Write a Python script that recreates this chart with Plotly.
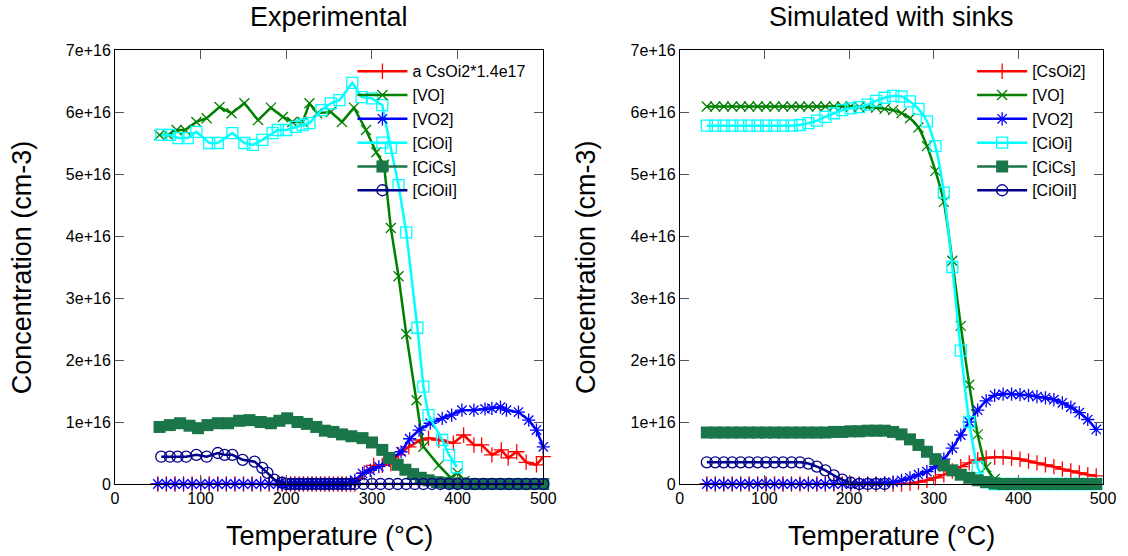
import numpy as np
import plotly.graph_objects as go

E16 = 1e16  # concentrations below are in units of 1e16 cm-3

# ---------------- Experimental ----------------
t_exp_low = [50, 60, 70, 80, 90, 100, 110, 120, 130, 140, 150, 160, 170, 180, 190,
             195, 200, 205, 210, 215, 220, 225, 230, 235, 240, 245, 250, 255, 260,
             265, 270, 275, 280]

csoi2_exp_t = t_exp_low + [291, 302, 312, 322, 331, 343, 357, 366, 378, 395, 407,
                           419, 428, 440, 451, 459, 469, 480, 492, 500]
csoi2_exp = [0, 0, 0, 0, 0, 0, 0, 0, 0, 0, 0, 0, 0, 0, 0, 0, 0, 0, 0, 0, 0, 0, 0,
             0, 0, 0, 0, 0, 0, 0, 0, 0, 0,
             0.18, 0.30, 0.30, 0.33, 0.47, 0.60, 0.71, 0.74, 0.71, 0.66, 0.79,
             0.63, 0.63, 0.47, 0.55, 0.42, 0.52, 0.35, 0.31, 0.44]

vo_exp_t = [52, 62, 72, 82, 95, 107, 122, 136, 151, 167, 182, 196, 207, 219, 227,
            236, 252, 265, 279, 293, 305, 314, 322, 331, 340, 352, 360, 378, 392,
            400, 408]
vo_exp = [5.63, 5.63, 5.71, 5.71, 5.84, 5.90, 6.08, 5.98, 6.14, 5.87, 6.07, 5.92,
          5.84, 5.84, 6.14, 5.98, 6.00, 5.84, 6.07, 5.71, 5.35, 5.15, 4.13, 3.35,
          2.42, 1.35, 0.60, 0.30, 0.10, 0.18, 0.05]

vo2_exp_t = t_exp_low + [289, 298, 308, 320, 334, 344, 355, 368, 382, 393, 405,
                         419, 432, 440, 450, 457, 471, 483, 492, 500]
vo2_exp = [0, 0, 0, 0, 0, 0, 0, 0, 0, 0, 0, 0, 0, 0, 0, 0, 0, 0, 0, 0, 0, 0, 0,
           0, 0, 0, 0, 0, 0, 0, 0, 0.03, 0.06,
           0.17, 0.22, 0.28, 0.38, 0.52, 0.73, 0.87, 0.98, 1.06, 1.11, 1.19,
           1.19, 1.21, 1.22, 1.24, 1.19, 1.16, 1.03, 0.87, 0.60]

cioi_exp_t = [54, 64, 74, 85, 95, 110, 120, 137, 151, 161, 172, 184, 190, 200, 211,
              219, 227, 241, 252, 262, 277, 288, 300, 312, 322, 331, 340, 353, 360,
              366, 382, 390, 399]
cioi_exp = [5.63, 5.63, 5.58, 5.58, 5.68, 5.50, 5.50, 5.66, 5.50, 5.47, 5.55, 5.66,
            5.71, 5.71, 5.76, 5.79, 5.82, 6.03, 6.14, 6.19, 6.47, 6.24, 6.22, 6.11,
            5.42, 4.82, 4.06, 2.52, 1.57, 1.11, 0.71, 0.47, 0.27]

cics_exp_t = [52, 64, 76, 87, 97, 108, 120, 132, 145, 157, 170, 182, 192, 201, 213,
              224, 235, 245, 255, 265, 276, 289, 300, 312, 320, 330, 339, 348, 357,
              366, 376, 386, 396, 406, 416, 426, 436, 446, 456, 466, 476, 488, 500]
cics_exp = [0.92, 0.95, 0.98, 0.94, 0.90, 0.95, 0.98, 0.98, 1.02, 1.03, 1.00, 0.98,
            1.02, 1.06, 1.00, 0.97, 0.92, 0.86, 0.84, 0.80, 0.77, 0.74, 0.67, 0.55,
            0.42, 0.31, 0.23, 0.16, 0.10, 0.06, 0.03, 0.02, 0.01, 0.01, 0, 0, 0,
            0, 0, 0, 0, 0, 0]

cioil_exp_t = [54, 64, 73, 83, 95, 107, 120, 128, 137, 149, 163, 172, 178, 186,
               195, 200, 205, 210, 215, 220, 225, 230, 235, 240, 245, 250, 255, 260,
               265, 270, 275, 280, 290, 300, 310, 320, 330, 340, 350, 360, 370, 380,
               390, 400, 410, 420, 430, 440, 450, 460, 470, 480, 490, 500]
cioil_exp = [0.44, 0.44, 0.44, 0.44, 0.47, 0.44, 0.50, 0.47, 0.47, 0.39, 0.36, 0.26,
             0.18, 0.07, 0.02, 0, 0, 0, 0, 0, 0, 0, 0, 0, 0, 0, 0, 0, 0, 0, 0, 0,
             0, 0, 0, 0, 0, 0, 0, 0, 0, 0, 0, 0, 0, 0, 0, 0, 0, 0, 0, 0, 0, 0]

# ---------------- Simulated ----------------
t_sim = [32, 42, 52, 62, 72, 82, 92, 102, 112, 122, 132, 142, 152, 162, 172, 182,
         192, 202, 212, 222, 232, 242, 252, 262, 272, 282, 292, 302, 312, 322, 332,
         342, 352, 362, 372, 382, 392, 402, 412, 422, 432, 442, 452, 462, 472, 482,
         492]

csoi2_sim = [0, 0, 0, 0, 0, 0, 0, 0, 0, 0, 0, 0, 0, 0, 0, 0, 0, 0, 0, 0, 0, 0, 0,
             0, 0.01, 0.03, 0.06, 0.10, 0.15, 0.21, 0.28, 0.34, 0.39, 0.42, 0.43,
             0.43, 0.42, 0.40, 0.37, 0.34, 0.31, 0.28, 0.24, 0.21, 0.18, 0.15, 0.13]

vo_sim = [6.09, 6.09, 6.09, 6.09, 6.09, 6.09, 6.09, 6.09, 6.09, 6.09, 6.09, 6.09,
          6.09, 6.09, 6.09, 6.09, 6.09, 6.09, 6.08, 6.08, 6.07, 6.05, 6.03, 5.98,
          5.90, 5.75, 5.45, 5.05, 4.55, 3.60, 2.55, 1.60, 0.80, 0.27, 0.08, 0, 0,
          0, 0, 0, 0, 0, 0, 0, 0, 0, 0]

vo2_sim = [0, 0, 0, 0, 0, 0, 0, 0, 0, 0, 0, 0, 0, 0, 0, 0, 0, 0, 0, 0.01, 0.01,
           0.02, 0.03, 0.06, 0.10, 0.15, 0.20, 0.28, 0.40, 0.58, 0.79, 1.00, 1.19,
           1.34, 1.43, 1.45, 1.45, 1.44, 1.43, 1.41, 1.39, 1.36, 1.31, 1.24, 1.15,
           1.04, 0.88]

cioi_sim = [5.78, 5.78, 5.78, 5.78, 5.78, 5.78, 5.78, 5.78, 5.78, 5.78, 5.78, 5.79,
            5.82, 5.86, 5.92, 5.98, 6.03, 6.06, 6.08, 6.12, 6.18, 6.23, 6.26, 6.25,
            6.17, 6.05, 5.85, 5.45, 4.70, 3.50, 2.15, 1.00, 0.27, 0.03, 0, 0, 0, 0,
            0, 0, 0, 0, 0, 0, 0, 0, 0]

cics_sim = [0.83, 0.83, 0.83, 0.83, 0.83, 0.83, 0.83, 0.83, 0.83, 0.83, 0.83, 0.83,
            0.83, 0.83, 0.83, 0.84, 0.84, 0.85, 0.85, 0.86, 0.86, 0.86, 0.84, 0.80,
            0.72, 0.63, 0.52, 0.40, 0.30, 0.22, 0.15, 0.10, 0.06, 0.03, 0.01, 0, 0,
            0, 0, 0, 0, 0, 0, 0, 0, 0, 0]

cioil_sim_t = t_sim[:22]
cioil_sim = [0.35, 0.35, 0.35, 0.35, 0.35, 0.35, 0.35, 0.35, 0.35, 0.35, 0.35, 0.35,
             0.33, 0.28, 0.22, 0.14, 0.07, 0.02, 0, 0, 0, 0]

y_ticks = [0, 1, 2, 3, 4, 5, 6, 7]
y_labels = ["0", "1e+16", "2e+16", "3e+16", "4e+16", "5e+16", "6e+16", "7e+16"]
x_ticks = [0, 100, 200, 300, 400, 500]

styles = {
    "CsOi2": dict(color="#ff0000", symbol="cross-thin-open", size=11),
    "VO": dict(color="#008000", symbol="x-thin-open", size=10),
    "VO2": dict(color="#0000ff", symbol="asterisk-open", size=11),
    "CiOi": dict(color="#00ffff", symbol="square-open", size=11),
    "CiCs": dict(color="#1a7548", symbol="square", size=12),
    "CiOiI": dict(color="#00008b", symbol="circle-open", size=11),
}

exp_series = [
    ("CsOi2", "a CsOi2*1.4e17", csoi2_exp_t, csoi2_exp),
    ("VO", "[VO]", vo_exp_t, vo_exp),
    ("VO2", "[VO2]", vo2_exp_t, vo2_exp),
    ("CiOi", "[CiOi]", cioi_exp_t, cioi_exp),
    ("CiCs", "[CiCs]", cics_exp_t, cics_exp),
    ("CiOiI", "[CiOiI]", cioil_exp_t, cioil_exp),
]
sim_series = [
    ("CsOi2", "[CsOi2]", t_sim, csoi2_sim),
    ("VO", "[VO]", t_sim, vo_sim),
    ("VO2", "[VO2]", t_sim, vo2_sim),
    ("CiOi", "[CiOi]", t_sim, cioi_sim),
    ("CiCs", "[CiCs]", t_sim, cics_sim),
    ("CiOiI", "[CiOiI]", cioil_sim_t, cioil_sim),
]

fig = go.Figure()


def add(series, xa, ya, legend, shape, smooth):
    for key, name, t, c in series:
        st = styles[key]
        filled = st["symbol"] == "square"
        fig.add_trace(go.Scatter(
            x=t, y=np.array(c, dtype=float) * E16, name=name, mode="lines+markers",
            xaxis=xa, yaxis=ya, legend=legend, cliponaxis=False,
            line=dict(color=st["color"], width=2.5, shape=shape, smoothing=smooth),
            marker=dict(symbol=st["symbol"], size=st["size"], color=st["color"],
                        line=dict(color=st["color"], width=0 if filled else 1.3)),
        ))


add(exp_series, "x", "y", "legend", "linear", 0)
add(sim_series, "x2", "y2", "legend2", "spline", 0.6)

axis_common = dict(showline=True, linecolor="black", linewidth=1, mirror="allticks",
                   ticks="inside", ticklen=9, tickcolor="#555555", showgrid=False,
                   zeroline=False, tickfont=dict(size=16, color="black"))

L_DOM = [0, 0.4335]
R_DOM = [0.5716, 1]

fig.update_layout(
    width=1128, height=556,
    margin=dict(l=115, r=21, t=50, b=72),
    paper_bgcolor="white", plot_bgcolor="white",
    font=dict(family="Liberation Sans, Arial, sans-serif", color="black"),
    xaxis=dict(domain=L_DOM, range=[0, 500], tickvals=x_ticks, anchor="y", **axis_common),
    yaxis=dict(domain=[0, 1], range=[0, 7 * E16], tickvals=[v * E16 for v in y_ticks],
               ticktext=y_labels, anchor="x", **axis_common),
    xaxis2=dict(domain=R_DOM, range=[0, 500], tickvals=x_ticks, anchor="y2", **axis_common),
    yaxis2=dict(domain=[0, 1], range=[0, 7 * E16], tickvals=[v * E16 for v in y_ticks],
                ticktext=y_labels, anchor="x2", **axis_common),
    legend=dict(x=L_DOM[1] - 0.012, xanchor="right", y=0.99, yanchor="top",
                font=dict(size=16), bgcolor="rgba(0,0,0,0)", itemwidth=50,
                tracegroupgap=0),
    legend2=dict(x=R_DOM[1] - 0.012, xanchor="right", y=0.99, yanchor="top",
                 font=dict(size=16), bgcolor="rgba(0,0,0,0)", itemwidth=50,
                 tracegroupgap=0),
    showlegend=True,
)

ann = []
for dom, title in ((L_DOM, "Experimental"), (R_DOM, "Simulated with sinks")):
    cx = (dom[0] + dom[1]) / 2
    ann.append(dict(x=cx, y=1.076, xref="paper", yref="paper", text=title,
                    showarrow=False, font=dict(size=27), xanchor="center", yanchor="middle"))
    ann.append(dict(x=cx, y=-0.12, xref="paper", yref="paper", text="Temperature (°C)",
                    showarrow=False, font=dict(size=27), xanchor="center", yanchor="middle"))
for xp in (-0.0938, 0.4768):
    ann.append(dict(x=xp, y=0.5, xref="paper", yref="paper", text="Concentration (cm-3)",
                    showarrow=False, textangle=-90, font=dict(size=27),
                    xanchor="center", yanchor="middle"))
fig.update_layout(annotations=ann)

# remove the default 8px page margin so the figure fills the window exactly
fig.write_html("out.html",
               config={"displayModeBar": False},
               post_script="document.body.style.margin='0';"
                           "document.body.style.overflow='hidden';")
